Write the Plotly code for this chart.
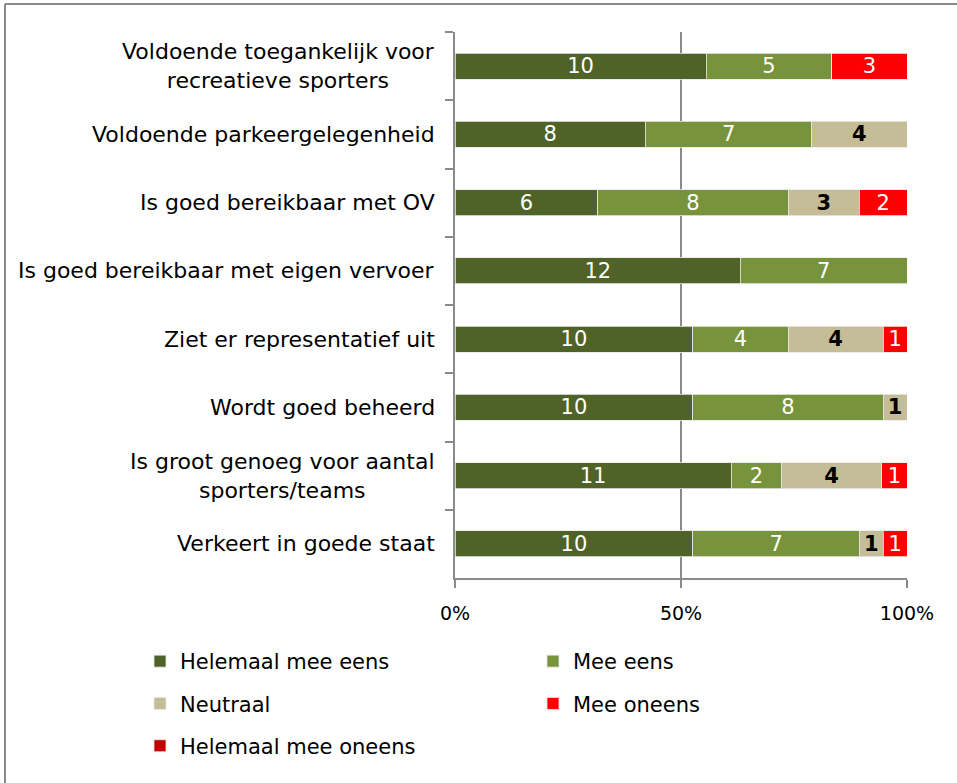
import plotly.graph_objects as go

categories = [
    "Voldoende toegankelijk voor<br>recreatieve sporters",
    "Voldoende parkeergelegenheid",
    "Is goed bereikbaar met OV",
    "Is goed bereikbaar met eigen vervoer",
    "Ziet er representatief uit",
    "Wordt goed beheerd",
    "Is groot genoeg voor aantal<br>sporters/teams",
    "Verkeert in goede staat",
]
series_names = ["Helemaal mee eens", "Mee eens", "Neutraal", "Mee oneens", "Helemaal mee oneens"]
helemaal_mee_eens = [10, 8, 6, 12, 10, 10, 11, 10]
mee_eens = [5, 7, 8, 7, 4, 8, 2, 7]
neutraal = [0, 4, 3, 0, 4, 1, 4, 1]
mee_oneens = [3, 0, 2, 0, 1, 0, 1, 1]
helemaal_mee_oneens = [0, 0, 0, 0, 0, 0, 0, 0]
tick_vals = [0, 50, 100]
tick_text = ["0%", "50%", "100%"]

series_values = [helemaal_mee_eens, mee_eens, neutraal, mee_oneens, helemaal_mee_oneens]
colors = ["#4F6228", "#77933C", "#C4BD97", "#FF0000", "#C00000"]
text_colors = ["white", "white", "black", "white", "white"]
legend_ids = ["legend", "legend2", "legend", "legend2", "legend"]

FONT = "DejaVu Sans"
W, H = 957, 783
L, R, T, B = 455, 50, 32, 205
PW, PH = W - L - R, H - T - B

def px_x(p):
    return (p - L) / PW

def px_y(p):
    return (H - B - p) / PH

fig = go.Figure()
for name, vals, col, tcol, lg in zip(series_names, series_values, colors, text_colors, legend_ids):
    fig.add_trace(go.Bar(
        name=name,
        y=categories,
        x=vals,
        orientation="h",
        marker=dict(color=col, line=dict(color="#e8e8e8", width=0.8)),
        text=[str(v) if v else "" for v in vals],
        textposition="inside",
        insidetextanchor="middle",
        textangle=0,
        constraintext="none",
        textfont=dict(family=FONT, size=21, color=tcol,
                      weight="bold" if tcol == "black" else "normal"),
        legend=lg,
        legendgroup=name,
        hoverinfo="skip",
    ))

for cat in categories:
    fig.add_annotation(
        x=px_x(437), xref="paper", y=cat, yref="y",
        text=cat, showarrow=False, xanchor="right", yanchor="middle",
        align="center", font=dict(family=FONT, size=22, color="black"),
    )

# outer chart frame: only left and top edges are visible in the reference
fig.add_shape(type="line", xref="paper", yref="paper",
              x0=px_x(5), x1=px_x(5), y0=px_y(800), y1=px_y(4),
              line=dict(color="#8a8a8a", width=2), layer="below")
fig.add_shape(type="line", xref="paper", yref="paper",
              x0=px_x(5), x1=px_x(970), y0=px_y(4), y1=px_y(4),
              line=dict(color="#8a8a8a", width=2), layer="below")

fig.update_layout(
    width=W, height=H,
    margin=dict(l=L, r=R, t=T, b=B, autoexpand=False),
    paper_bgcolor="white", plot_bgcolor="white",
    barmode="stack", barnorm="percent", bargap=0.62,
    font=dict(family=FONT, size=19, color="black"),
    xaxis=dict(range=[0, 100], tickvals=tick_vals, ticktext=tick_text,
               showgrid=True, gridcolor="#8a8a8a", gridwidth=2,
               showline=True, linecolor="#8a8a8a", linewidth=2,
               ticks="outside", ticklen=8, tickcolor="#8a8a8a", tickwidth=2,
               zeroline=False, ticklabelstandoff=9, automargin=False,
               tickfont=dict(family=FONT, size=19, color="black")),
    yaxis=dict(autorange="reversed", showticklabels=False,
               showline=True, linecolor="#8a8a8a", linewidth=2,
               ticks="outside", ticklen=8, tickcolor="#8a8a8a", tickwidth=2,
               tickson="boundaries", showgrid=False, zeroline=False, automargin=False),
    legend=dict(x=px_x(140), y=px_y(641), xanchor="left", yanchor="top",
                orientation="v", traceorder="grouped", tracegroupgap=12,
                font=dict(family=FONT, size=21, color="black"),
                bgcolor="rgba(0,0,0,0)"),
    legend2=dict(x=px_x(533), y=px_y(641), xanchor="left", yanchor="top",
                 orientation="v", traceorder="grouped", tracegroupgap=12,
                 font=dict(family=FONT, size=21, color="black"),
                 bgcolor="rgba(0,0,0,0)"),
    showlegend=True,
)

fig.write_html("out.html", config={"displayModeBar": False},
               post_script="document.body.style.margin='0';")
